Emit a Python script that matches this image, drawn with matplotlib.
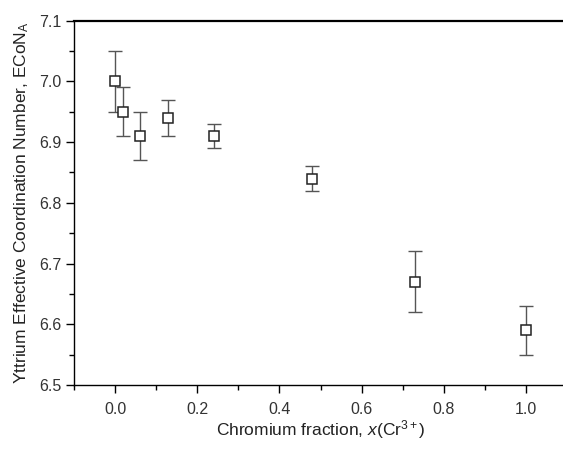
import matplotlib
matplotlib.use('Agg')
from matplotlib import pyplot as plt
from matplotlib.ticker import MultipleLocator

plt.rcParams['font.family'] = ['Liberation Sans', 'DejaVu Sans']
plt.rcParams['mathtext.fontset'] = 'custom'
plt.rcParams['mathtext.rm'] = 'Liberation Sans'
plt.rcParams['mathtext.it'] = 'Liberation Sans:italic'

# chromium fraction, ECoN of yttrium and its uncertainty
x_cr = [0.0, 0.02, 0.06, 0.13, 0.24, 0.48, 0.73, 1.0]
econ = [7.00, 6.95, 6.91, 6.94, 6.91, 6.84, 6.67, 6.59]
econ_err = [0.05, 0.04, 0.04, 0.03, 0.02, 0.02, 0.05, 0.04]

x_ticks = [0.0, 0.2, 0.4, 0.6, 0.8, 1.0]
y_ticks = [6.5, 6.6, 6.7, 6.8, 6.9, 7.0, 7.1]

fig = plt.figure(figsize=(5.63, 4.5), dpi=100)
# axes runs slightly past the right edge, so the right frame is cut off
ax = fig.add_axes([74 / 563, 1 - 385 / 450, 493 / 563, 364.3 / 450])

ax.errorbar(x_cr, econ, yerr=econ_err, fmt='none', ecolor='#555555',
            elinewidth=1.0, capsize=5, capthick=1.0, zorder=2)
ax.plot(x_cr, econ, linestyle='none', marker='s', markersize=7.5,
        markerfacecolor='white', markeredgecolor='#222222',
        markeredgewidth=1.1, zorder=3)

ax.set_xlim(-0.1, 1.1)
ax.set_ylim(6.5, 7.1)
ax.set_xticks(x_ticks)
ax.set_yticks(y_ticks)
ax.xaxis.set_minor_locator(MultipleLocator(0.1))
ax.yaxis.set_minor_locator(MultipleLocator(0.05))
ax.xaxis.set_major_formatter(plt.FormatStrFormatter('%.1f'))
ax.yaxis.set_major_formatter(plt.FormatStrFormatter('%.1f'))

ax.tick_params(which='major', direction='out', length=6, width=1.0,
               labelsize=11.5, labelcolor='#333333')
ax.tick_params(which='minor', direction='out', length=3.5, width=1.0)
ax.tick_params(axis='x', pad=6)
ax.tick_params(axis='y', pad=3)

ax.spines['right'].set_visible(False)
ax.spines['top'].set_linewidth(1.6)
ax.spines['left'].set_linewidth(1.0)
ax.spines['bottom'].set_linewidth(1.0)

ax.set_xlabel(r'Chromium fraction, $\mathit{x}$(Cr$^{3+}$)', fontsize=12.5,
              color='#222222', labelpad=1)
ax.set_ylabel(r'Yttrium Effective Coordination Number, ECoN$_{\mathrm{A}}$',
              fontsize=12.5, color='#222222', labelpad=6)

plt.savefig('out.png', dpi=100)
